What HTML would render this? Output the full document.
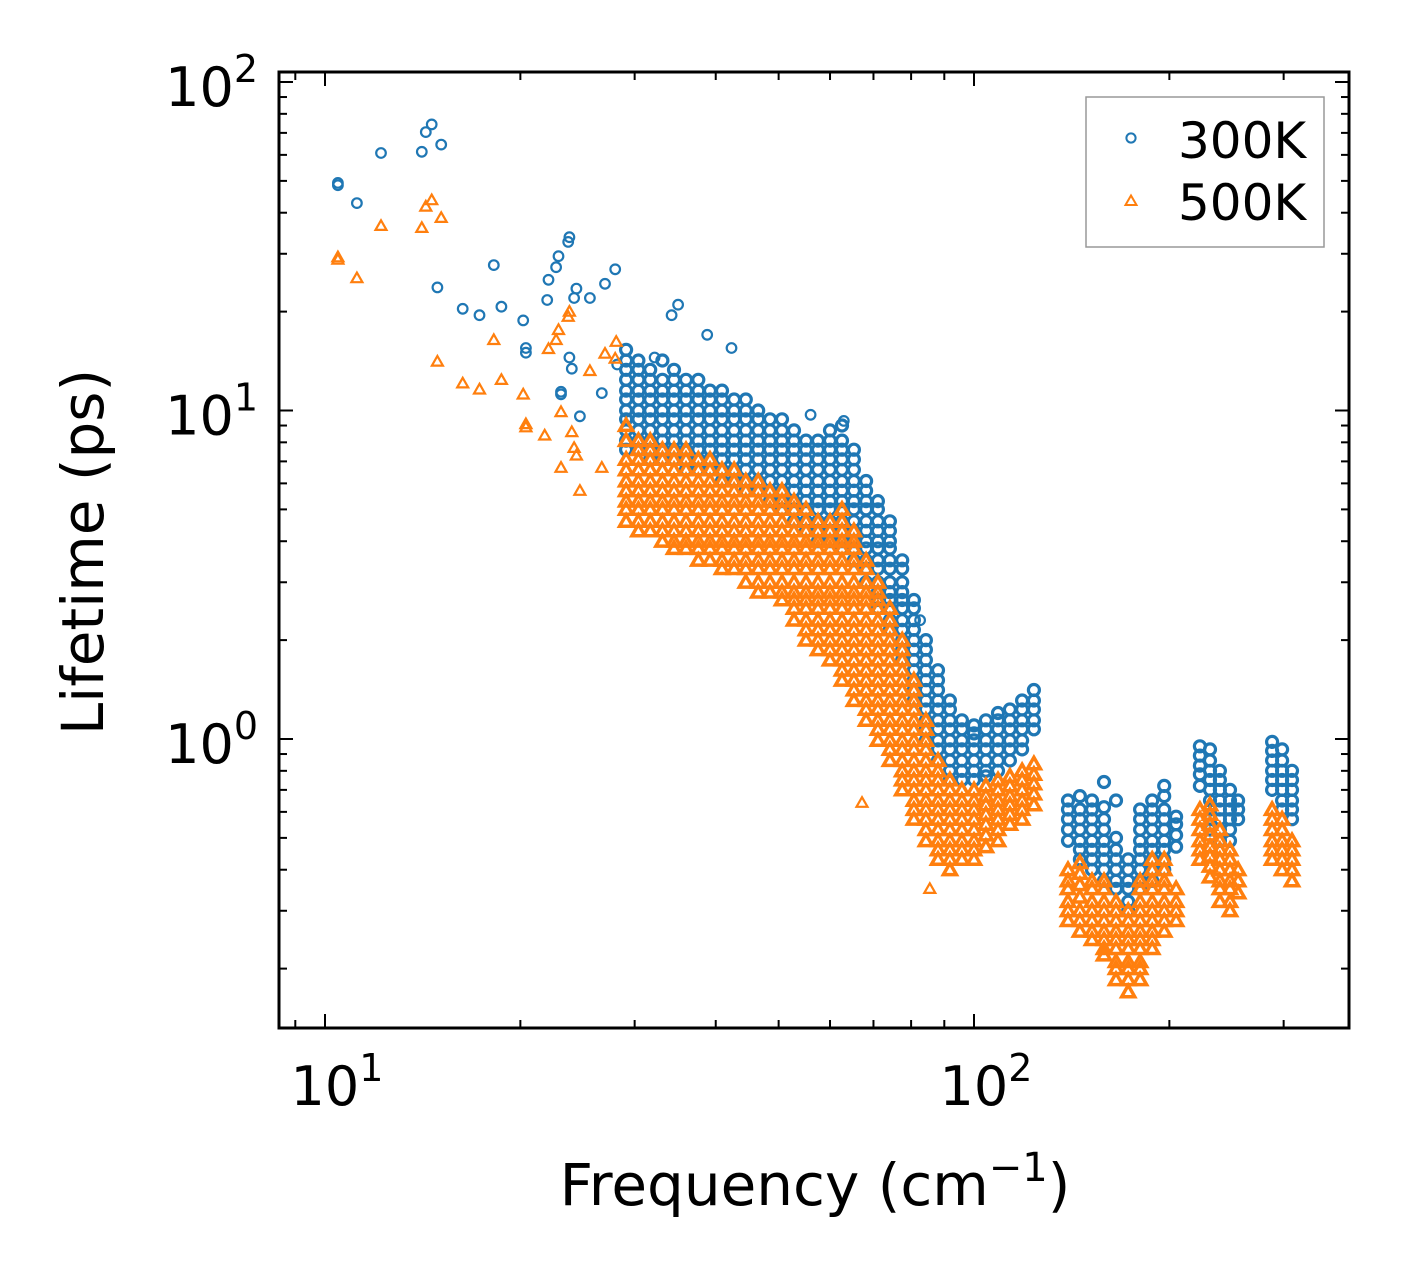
<!DOCTYPE html>
<html><head><meta charset="utf-8"><style>
html,body{margin:0;padding:0;background:#fff;}
svg{display:block;font-family:"DejaVu Sans","Liberation Sans",sans-serif;}
</style></head><body>
<svg id="chart" width="1408" height="1278" viewBox="0 0 1408 1278" xmlns="http://www.w3.org/2000/svg">
<rect x="0" y="0" width="1408" height="1278" fill="#fff"/>
<g id="marks300"></g>
<g id="marks500"></g>
<g id="ticks"></g>
<rect x="279" y="72" width="1070" height="956" fill="none" stroke="#000" stroke-width="3"/>
<g id="xlabels"></g>
<g id="ylabels"></g>
<text x="815" y="1205" font-size="58" text-anchor="middle">Frequency (cm<tspan dy="-24" font-size="40">−1</tspan><tspan dy="24">)</tspan></text>
<text transform="translate(103,552) rotate(-90)" font-size="58" text-anchor="middle">Lifetime (ps)</text>
<g>
<rect x="1086" y="97" width="238" height="150" fill="#fff" stroke="#999" stroke-width="1.5"/>
<g>
<circle cx="1131" cy="138" r="4.6" fill="none" stroke="#1f77b4" stroke-width="2"/>
<text x="1178" y="158" font-size="50">300K</text></g>
<g>
<path d="M1131,195.5 L1136.5,205 L1125.5,205 Z" fill="none" stroke="#ff7f0e" stroke-width="2"/>
<text x="1178" y="220" font-size="50">500K</text></g>
</g>
</svg>
<script>
// ---- data: 300K ----
const sparse300Freq=[10.47,10.47,11.2,12.2,14.1,14.3,14.6,15.1,14.9,16.3,17.3,18.2,18.7,20.2,20.4,20.4,22.0,22.1,22.7,22.9,23.1,23.1,23.7,23.8,23.8,24.0,24.2,24.4,24.7,25.6,26.7,27.0,28.0,28.2,35.0,34.2,32.2,38.8,42.3,56,63,82.6];
const sparse300Life=[49.3,48.5,42.8,60.8,61.3,70.4,74.3,64.5,23.7,20.4,19.5,27.7,20.7,18.8,15.5,15.0,21.7,25.0,27.3,29.5,11.2,11.4,32.6,33.7,14.5,13.4,22.0,23.5,9.6,22.0,11.3,24.3,26.9,13.8,21.0,19.5,14.5,17.0,15.5,9.7,9.3,2.3];
const dense300Freq=[29.1,30.4,31.7,33.1,34.5,36.0,37.6,39.2,40.9,42.7,44.5,46.5,48.5,50.6,52.8,55.1,57.5,60.0,62.6,65.3,68.2,71.1,74.2,77.5,80.8,84.3,88.0,91.8,95.8,100,104.3,108.9,113.6,118.6,123.7,
139.6,145.6,152.0,158.6,165.5,172.8,180.3,188.2,196.4,204.8,222.9,231.0,239.3,248.0,255.2,288.0,298.4,309.0];
const dense300Life=[
[15.3,14.2,13.3,12.4,11.5,10.8,10,9.4,8.7,8.1,7.6],[14.2,13.3,12.4,11.5,10.8,10,9.4,8.7,8.1,7.6],[13.3,12.4,11.5,10.8,10,9.4,8.7,8.1,7.6,7.1],[14.2,12.4,11.5,10.8,10,9.4,8.7,8.1,7.6,7.1],[13.3,12.4,11.5,10.8,10,9.4,8.7,8.1,7.6,7.1],
[12.4,11.5,10.8,10,9.4,8.7,8.1,7.6,7.1,6.6],[12.4,11.5,10.8,10,9.4,8.7,8.1,7.6,7.1,6.6],[11.5,10.8,10,9.4,8.7,8.1,7.6,7.1,6.6],[11.5,10.8,10,9.4,8.7,8.1,7.6,7.1,6.6,6.1],[10.8,10,9.4,8.7,8.1,7.6,7.1,6.6,6.1],
[10.8,10,9.4,8.7,8.1,7.6,7.1,6.6,6.1,5.7],[10,9.4,8.7,8.1,7.6,7.1,6.6,6.1,5.7],[9.4,8.7,8.1,7.6,7.1,6.6,6.1,5.7,5.3],[9.4,8.7,8.1,7.6,7.1,6.6,6.1,5.7,5.3,5.0],[8.7,8.1,7.6,7.1,6.6,6.1,5.7,5.3,5.0,4.6],
[8.1,7.6,7.1,6.6,6.1,5.7,5.3,5.0,4.6,4.3],[8.1,7.6,7.1,6.6,6.1,5.7,5.3,5.0,4.6,4.3,4.0],[8.7,8.1,7.6,7.1,6.6,6.1,5.7,5.3,5.0,4.6,4.3,4.0],[9.0,8.1,7.6,7.1,6.6,6.1,5.7,5.3,5.0,4.6,4.3,4.0,3.8],[7.6,7.1,6.6,6.1,5.7,5.3,5.0,4.6,4.3,4.0,3.8,3.5],
[6.1,5.7,5.3,5.0,4.6,4.3,4.0,3.8,3.5,3.3,3.0],[5.3,5.0,4.6,4.3,4.0,3.8,3.5,3.3,3.0,2.8,2.65,2.5],[4.6,4.3,4.0,3.8,3.5,3.3,3.0,2.8,2.65,2.5,2.3,2.15],[3.5,3.3,3.0,2.8,2.65,2.5,2.3,2.15,2.0,1.87,1.74],[2.65,2.5,2.3,2.15,2.0,1.87,1.74,1.62,1.51,1.41,1.31],
[2.0,1.87,1.74,1.62,1.51,1.41,1.31,1.23,1.14,1.07,0.99],[1.62,1.51,1.41,1.31,1.23,1.14,1.07,0.99,0.93,0.86],[1.31,1.23,1.14,1.07,0.99,0.93,0.86,0.80,0.75],[1.14,1.07,0.99,0.93,0.86,0.80,0.75],[1.1,1.04,0.99,0.93,0.86,0.80,0.75],
[1.14,1.07,0.99,0.93,0.86,0.80,0.77],[1.2,1.14,1.07,0.99,0.93,0.86,0.80],[1.23,1.14,1.07,0.99,0.93,0.86],[1.31,1.23,1.14,1.07,0.99,0.93],[1.41,1.31,1.23,1.14,1.07],
[0.65,0.61,0.57,0.53,0.49],[0.67,0.61,0.57,0.53,0.49,0.46,0.43],[0.65,0.61,0.57,0.53,0.49,0.46,0.43,0.40],[0.74,0.62,0.57,0.53,0.49,0.46,0.43,0.40,0.37],[0.65,0.5,0.46,0.43,0.40,0.37,0.35],
[0.43,0.40,0.37,0.35,0.32,0.30],[0.61,0.57,0.53,0.49,0.46,0.43,0.40,0.37,0.35],[0.65,0.61,0.57,0.53,0.49,0.46,0.43,0.40,0.37],[0.72,0.67,0.61,0.57,0.53,0.49,0.46,0.43,0.40],[0.58,0.55,0.51,0.47],
[0.95,0.89,0.83,0.78,0.72],[0.93,0.86,0.80,0.75,0.70,0.65,0.61,0.57,0.53],[0.80,0.75,0.70,0.65,0.61,0.57,0.53,0.49],[0.70,0.65,0.61,0.57,0.53,0.49],[0.65,0.61,0.57],
[0.98,0.92,0.86,0.80,0.75,0.70],[0.93,0.86,0.80,0.75,0.70,0.65,0.61],[0.80,0.75,0.70,0.65,0.61,0.57]];
// ---- data: 500K ----
const sparse500Freq=[10.47,10.47,11.2,12.2,14.1,14.3,14.6,15.1,14.9,16.3,17.3,18.2,18.7,20.2,20.4,20.4,21.8,22.1,22.7,22.9,23.1,23.1,23.7,23.8,24.0,24.2,24.4,24.7,25.6,26.7,27.0,28.0,28.1,67.2,85.5];
const sparse500Life=[29.3,28.8,25.3,36.5,36.0,41.8,43.7,38.6,14.1,12.1,11.6,16.4,12.4,11.2,9.1,8.9,8.4,15.4,16.4,17.6,9.9,6.7,19.3,20.0,8.6,7.7,7.3,5.7,13.2,6.7,14.9,14.4,16.2,0.64,0.35];
const dense500Freq=dense300Freq;
const dense500Life=[
[9.0,8.1,7.1,6.6,6.1,5.7,5.3,5.0,4.6],[8.1,7.6,7.1,6.6,6.1,5.7,5.3,5.0,4.6,4.3],[8.1,7.6,7.1,6.6,6.1,5.7,5.3,5.0,4.6,4.3],[7.6,7.1,6.6,6.1,5.7,5.3,5.0,4.6,4.3,4.0],[7.6,7.1,6.6,6.1,5.7,5.3,5.0,4.6,4.3,4.0,3.8],
[7.6,7.1,6.6,6.1,5.7,5.3,5.0,4.6,4.3,4.0,3.8],[7.1,6.6,6.1,5.7,5.3,5.0,4.6,4.3,4.0,3.8,3.5],[7.1,6.6,6.1,5.7,5.3,5.0,4.6,4.3,4.0,3.8,3.5],[6.6,6.1,5.7,5.3,5.0,4.6,4.3,4.0,3.8,3.5,3.3],[6.6,6.1,5.7,5.3,5.0,4.6,4.3,4.0,3.8,3.5,3.3],
[6.1,5.7,5.3,5.0,4.6,4.3,4.0,3.8,3.5,3.3,3.0],[6.1,5.7,5.3,5.0,4.6,4.3,4.0,3.8,3.5,3.3,3.0,2.8],[5.7,5.3,5.0,4.6,4.3,4.0,3.8,3.5,3.3,3.0,2.8],[5.7,5.3,5.0,4.6,4.3,4.0,3.8,3.5,3.3,3.0,2.8,2.65],[5.3,5.0,4.6,4.3,4.0,3.8,3.5,3.3,3.0,2.8,2.65,2.5,2.3],
[5.0,4.6,4.3,4.0,3.8,3.5,3.3,3.0,2.8,2.65,2.5,2.3,2.15,2.0],[4.6,4.3,4.0,3.8,3.5,3.3,3.0,2.8,2.65,2.5,2.3,2.15,2.0,1.87],[4.6,4.3,4.0,3.8,3.5,3.3,3.0,2.8,2.65,2.5,2.3,2.15,2.0,1.87,1.74],[5.0,4.6,4.3,4.0,3.8,3.5,3.3,3.0,2.8,2.65,2.5,2.3,2.15,2.0,1.87,1.74,1.62,1.51],[4.3,4.0,3.8,3.5,3.3,3.0,2.8,2.65,2.5,2.3,2.15,2.0,1.87,1.74,1.62,1.51,1.41,1.31],
[3.5,3.3,3.0,2.8,2.65,2.5,2.3,2.15,2.0,1.87,1.74,1.62,1.51,1.41,1.31,1.23,1.14],[3.0,2.8,2.65,2.5,2.3,2.15,2.0,1.87,1.74,1.62,1.51,1.41,1.31,1.23,1.14,1.07,0.99],[2.5,2.3,2.15,2.0,1.87,1.74,1.62,1.51,1.41,1.31,1.23,1.14,1.07,0.99,0.93,0.86],[2.0,1.87,1.74,1.62,1.51,1.41,1.31,1.23,1.14,1.07,0.99,0.93,0.86,0.80,0.75,0.70],[1.51,1.41,1.31,1.23,1.14,1.07,0.99,0.93,0.86,0.80,0.75,0.70,0.65,0.61,0.57],
[1.14,1.07,0.99,0.93,0.86,0.80,0.75,0.70,0.65,0.61,0.57,0.53,0.49],[0.86,0.80,0.75,0.70,0.65,0.61,0.57,0.53,0.49,0.46,0.43],[0.75,0.70,0.65,0.61,0.57,0.53,0.49,0.46,0.43,0.40],[0.70,0.65,0.61,0.57,0.53,0.49,0.46,0.43],[0.70,0.65,0.61,0.57,0.53,0.49,0.46,0.43],
[0.72,0.67,0.63,0.59,0.55,0.51,0.47],[0.75,0.70,0.65,0.61,0.57,0.53,0.49],[0.77,0.72,0.67,0.63,0.59,0.55],[0.80,0.75,0.70,0.65,0.61,0.57],[0.84,0.78,0.73,0.68,0.63],
[0.40,0.37,0.35,0.32,0.30,0.28],[0.42,0.39,0.36,0.33,0.30,0.28,0.26],[0.37,0.35,0.32,0.30,0.28,0.26,0.245],[0.37,0.35,0.32,0.30,0.28,0.26,0.245,0.23,0.22],[0.32,0.30,0.28,0.26,0.245,0.23,0.21,0.20,0.185],
[0.30,0.28,0.26,0.245,0.23,0.21,0.20,0.185,0.17],[0.37,0.35,0.32,0.30,0.28,0.26,0.245,0.23,0.21,0.20,0.185],[0.43,0.40,0.37,0.35,0.32,0.30,0.28,0.26,0.245,0.23],[0.43,0.40,0.37,0.35,0.32,0.30,0.28,0.26],[0.35,0.32,0.30,0.28],
[0.61,0.57,0.53,0.49,0.46,0.43],[0.63,0.59,0.55,0.51,0.47,0.44,0.41,0.38],[0.53,0.49,0.46,0.43,0.40,0.37,0.35,0.32],[0.46,0.43,0.40,0.37,0.35,0.32,0.30],[0.40,0.37,0.34],
[0.61,0.57,0.53,0.49,0.46,0.43],[0.57,0.53,0.49,0.46,0.43,0.40],[0.49,0.46,0.43,0.40,0.37]];
// ---- axes ----
const xMajor=[10,100];
const xMajorLabels=["1","2"];
const yMajor=[1,10,100];
const yMajorLabels=["0","1","2"];
const X0=325, XDEC=649, Y0=739, YDEC=328.5;
const L=279,R=1349,T=72,B=1028;
function xs(v){return X0+(Math.log10(v)-1)*XDEC;}
function ys(v){return Y0-Math.log10(v)*YDEC;}
const NS="http://www.w3.org/2000/svg";
function mk(tag,attrs,parent){const e=document.createElementNS(NS,tag);for(const k in attrs)e.setAttribute(k,attrs[k]);parent.appendChild(e);return e;}
const g3=document.getElementById('marks300'),g5=document.getElementById('marks500');
function circ(f,l,dense){const c=mk('circle',{cx:xs(f).toFixed(1),cy:ys(l).toFixed(1),r:dense?5.5:4.8,fill:'none',stroke:'#1f77b4','stroke-width':dense?3.2:2.2},g3);

}
function tri(f,l,dense){const x=xs(f),y=ys(l);const s=dense?6.5:5.5;const p=mk('path',{d:`M${x.toFixed(1)},${(y-s).toFixed(1)} L${(x+s).toFixed(1)},${(y+s*0.75).toFixed(1)} L${(x-s).toFixed(1)},${(y+s*0.75).toFixed(1)} Z`,fill:'none',stroke:'#ff7f0e','stroke-width':dense?3.5:2.2},g5);

}
sparse300Freq.forEach((f,i)=>circ(f,sparse300Life[i],false));
dense300Freq.forEach((f,i)=>dense300Life[i].forEach(l=>circ(f,l,true)));
sparse500Freq.forEach((f,i)=>tri(f,sparse500Life[i],false));
dense500Freq.forEach((f,i)=>dense500Life[i].forEach(l=>tri(f,l,true)));
// ticks
const gt=document.getElementById('ticks');
function tick(x1,y1,x2,y2){const t=mk('line',{x1,y1,x2,y2,stroke:'#000','stroke-width':2},gt);

}
for(let d=0;d<3;d++)for(let m=1;m<10;m++){const v=m*Math.pow(10,d);const x=xs(v);if(x<L+1||x>R-1)continue;const len=m===1?14:8;tick(x,B,x,B-len);tick(x,T,x,T+len);}
for(let d=-1;d<3;d++)for(let m=1;m<10;m++){const v=m*Math.pow(10,d);const y=ys(v);if(y<T+1||y>B-1)continue;const len=m===1?14:8;tick(L,y,L+len,y);tick(R,y,R-len,y);}
const gx=document.getElementById('xlabels');
xMajor.forEach((v,i)=>{const t=mk('text',{x:xs(v)+12,y:1105,'font-size':54,'text-anchor':'middle'},gx);t.innerHTML='10<tspan dy="-24" font-size="38">'+xMajorLabels[i]+'</tspan>';

});
const gy=document.getElementById('ylabels');
yMajor.forEach((v,i)=>{const t=mk('text',{x:258,y:ys(v)+24,'font-size':54,'text-anchor':'end'},gy);t.innerHTML='10<tspan dy="-24" font-size="38">'+yMajorLabels[i]+'</tspan>';

});
</script>
</body></html>
